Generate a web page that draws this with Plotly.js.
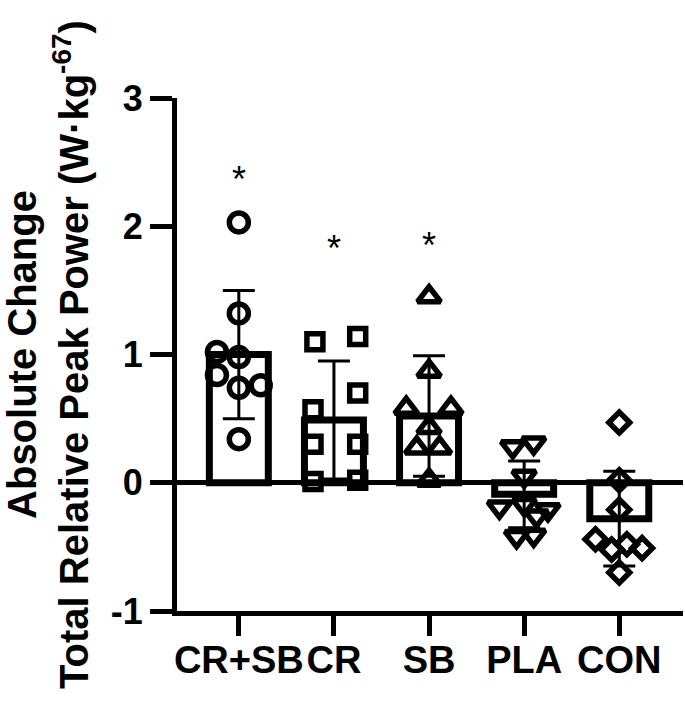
<!DOCTYPE html>
<html>
<head>
<meta charset="utf-8">
<script src="https://cdn.plot.ly/plotly-3.0.1.min.js"></script>
<style>
  html, body { margin: 0; padding: 0; background: #fff; }
  #chart { width: 685px; height: 709px; }
</style>
</head>
<body>
<div id="chart"></div>
<script>
// group labels on the x axis
const groups = ['CR+SB', 'CR', 'SB', 'PLA', 'CON'];
const yTicks = [-1, 0, 1, 2, 3];
const yTickText = ['-1', '0', '1', '2', '3'];

// bar heights (group means) and SD error bars
const means = [1.00, 0.49, 0.52, -0.09, -0.28];
const sds = [0.50, 0.46, 0.47, 0.26, 0.37];

// individual changes per group
const crsbValues = [2.03, 1.32, 1.02, 0.98, 0.84, 0.74, 0.76, 0.34];
const crValues = [1.10, 1.14, 0.70, 0.57, 0.30, 0.30, 0.01, 0.02];
const sbValues = [1.45, 0.87, 0.58, 0.58, 0.43, 0.27, 0.27, 0.02];
const plaValues = [0.28, 0.31, 0.05, -0.19, -0.17, -0.21, -0.26, -0.42, -0.41];
const conValues = [0.47, 0.02, -0.21, -0.44, -0.52, -0.48, -0.51, -0.70];

// horizontal scatter of the points within a group (fraction of a category)
const crsbJitter = [0, 0, -0.23, 0, -0.23, 0, 0.23, 0];
const crJitter = [-0.2, 0.25, 0.25, -0.22, -0.22, 0.25, -0.22, 0.25];
const sbJitter = [0, 0, -0.24, 0.23, 0, -0.13, 0.11, 0];
const plaJitter = [-0.12, 0.1, 0, -0.26, 0, 0.25, 0.13, -0.08, 0.1];
const conJitter = [0, 0, 0, -0.25, -0.08, 0.08, 0.24, 0];

// significance marks
const starGroups = [0, 1, 2];
const starHeights = [2.43, 1.89, 1.91];

const FONT = 'Liberation Sans, Arial, Helvetica, sans-serif';
const positions = groups.map((g, i) => i);

const barTrace = {
    type: 'bar',
    x: positions,
    y: means,
    width: 0.62,
    marker: {
        color: 'white',
        line: { color: 'black', width: 7 }
    },
    error_y: {
        type: 'data',
        array: sds,
        visible: true,
        color: 'black',
        thickness: 3,
        width: 16
    },
    hoverinfo: 'skip'
};

function pointsTrace(idx, values, jitter, symbol, size) {
    return {
        type: 'scatter',
        mode: 'markers',
        x: values.map((v, i) => idx + jitter[i]),
        y: values,
        marker: {
            symbol: symbol,
            size: size,
            color: 'black',
            line: { color: 'black', width: 5.5 }
        },
        cliponaxis: false,
        hoverinfo: 'skip'
    };
}

const traces = [
    barTrace,
    pointsTrace(0, crsbValues, crsbJitter, 'circle-open', 19),
    pointsTrace(1, crValues, crJitter, 'square-open', 16),
    pointsTrace(2, sbValues, sbJitter, 'triangle-up-open', 20),
    pointsTrace(3, plaValues, plaJitter, 'triangle-down-open', 20),
    pointsTrace(4, conValues, conJitter, 'diamond-open', 16)
];

const stars = starGroups.map((g, i) => ({
    x: g,
    y: starHeights[i],
    xref: 'x',
    yref: 'y',
    text: '*',
    showarrow: false,
    yanchor: 'middle',
    yshift: -8,
    font: { family: FONT, size: 36, color: 'black' }
}));

const layout = {
    width: 685,
    height: 709,
    margin: { l: 177, r: 2, t: 98, b: 98 },
    paper_bgcolor: 'white',
    plot_bgcolor: 'white',
    showlegend: false,
    bargap: 0,
    font: { family: FONT, color: 'black' },
    xaxis: {
        range: [-0.65, 4.67],
        tickmode: 'array',
        tickvals: positions,
        ticktext: groups,
        tickangle: 0,
        showgrid: false,
        zeroline: false,
        showline: true,
        linecolor: 'black',
        linewidth: 5,
        ticks: 'outside',
        ticklen: 20,
        tickwidth: 5,
        tickcolor: 'black',
        ticklabelstandoff: -9,
        tickfont: { family: FONT, size: 38, weight: 'bold', color: 'black' },
        fixedrange: true
    },
    yaxis: {
        range: [-1, 3],
        tickmode: 'array',
        tickvals: yTicks,
        ticktext: yTickText,
        showgrid: false,
        zeroline: true,
        zerolinecolor: 'black',
        zerolinewidth: 5,
        showline: true,
        linecolor: 'black',
        linewidth: 5,
        ticks: 'outside',
        ticklen: 22,
        tickwidth: 5,
        tickcolor: 'black',
        tickfont: { family: FONT, size: 36, weight: 'bold', color: 'black' },
        title: {
            text: 'Absolute Change<br>Total Relative Peak Power (W·kg<sup>-67</sup>)',
            font: { family: FONT, size: 40, weight: 'bold', color: 'black' },
            standoff: 22
        },
        automargin: false,
        fixedrange: true
    },
    annotations: stars
};

Plotly.newPlot('chart', traces, layout, { displayModeBar: false, staticPlot: true });
</script>
</body>
</html>
